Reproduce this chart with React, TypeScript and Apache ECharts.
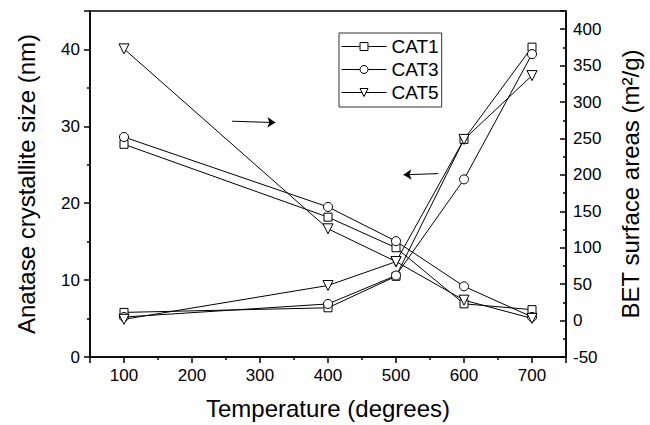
import React, { useEffect, useRef } from 'react';
import * as echarts from 'echarts';

// Calcination temperature (degrees)
const temperatures = [100, 400, 500, 600, 700];
const seriesNames = ['CAT1', 'CAT3', 'CAT5'];

// Anatase crystallite size (nm) - left axis
const sizeCAT1 = [5.8, 6.4, 10.5, 28.3, 40.3];
const sizeCAT3 = [5.2, 6.9, 10.6, 23.1, 39.4];
const sizeCAT5 = [4.9, 9.3, 12.4, 28.3, 36.6];

// BET surface areas (m2/g) - right axis
const betCAT1 = [242, 142, 100, 23, 15];
const betCAT3 = [252, 156, 109, 47, 5];
const betCAT5 = [373, 126, 81, 28, 3];

// Annotation arrows in data units [temperature, value]
const rightArrow = [[259, 273.7], [322.6, 271.8]]; // on right axis
const leftArrow = [[562, 23.85], [511, 23.7]]; // on left axis

const FONT = "'Liberation Sans', Arial, sans-serif";

const symbols: Record<string, { symbol: string; size: number; rotate: number }> = {
  CAT1: { symbol: 'rect', size: 8, rotate: 0 },
  CAT3: { symbol: 'circle', size: 9, rotate: 0 },
  CAT5: { symbol: 'triangle', size: 10, rotate: 180 },
};

function makeSeries(name: string, values: number[], yAxisIndex: number, arrow?: number[][]) {
  const s = symbols[name];
  const ser: any = {
    type: 'line',
    name,
    yAxisIndex,
    data: temperatures.map((t, i) => [t, values[i]]),
    symbol: s.symbol,
    symbolSize: s.size,
    symbolRotate: s.rotate,
    showAllSymbol: true,
    color: '#000',
    lineStyle: { color: '#000', width: 1 },
    itemStyle: { color: '#fff', borderColor: '#000', borderWidth: 1 },
    emphasis: { disabled: true },
    silent: true,
  };
  if (arrow) {
    ser.markLine = {
      silent: true,
      symbol: ['none', 'arrow'],
      symbolSize: 8,
      label: { show: false },
      lineStyle: { color: '#000', width: 1, type: 'solid' },
      emphasis: { disabled: true },
      data: [[{ coord: arrow[0] }, { coord: arrow[1] }]],
    };
  }
  return ser;
}

export default function App() {
  const ref = useRef<HTMLDivElement>(null);
  useEffect(() => {
    if (!ref.current) return;
    const chart = echarts.init(ref.current, undefined, { renderer: 'svg' });
    const axisLine = { onZero: false, lineStyle: { color: '#000', width: 1.5 } };
    const option: any = {
      animation: false,
      backgroundColor: '#fff',
      textStyle: { fontFamily: FONT, color: '#000' },
      grid: {
        left: 90, right: 79, top: 11, bottom: 64,
        show: true, borderColor: '#000', borderWidth: 1.5, backgroundColor: 'transparent',
      },
      legend: {
        orient: 'vertical', left: 339, top: 33,
        itemWidth: 45, itemHeight: 10, itemGap: 4,
        padding: [4, 3, 5, 2],
        borderColor: '#333', borderWidth: 1,
        selectedMode: false,
        lineStyle: { width: 1, color: '#000' },
        itemStyle: { color: '#fff', borderColor: '#000', borderWidth: 1 },
        textStyle: { fontSize: 19, color: '#000', fontFamily: FONT },
        data: seriesNames,
      },
      xAxis: {
        type: 'value', min: 50, max: 750, splitNumber: 7,
        name: 'Temperature (degrees)', nameLocation: 'middle', nameGap: 39,
        nameTextStyle: { fontSize: 24, color: '#000', fontFamily: FONT },
        axisLine,
        axisTick: { show: true, length: 6, lineStyle: { color: '#000', width: 1.5 } },
        minorTick: { show: true, splitNumber: 2, length: 3, lineStyle: { color: '#000', width: 1.5 } },
        axisLabel: { showMinLabel: false, showMaxLabel: false, fontSize: 17, color: '#000', margin: 10, fontFamily: FONT },
        splitLine: { show: false },
      },
      yAxis: [
        {
          type: 'value', position: 'left', min: 0, max: 45, interval: 10,
          name: 'Anatase crystallite size (nm)', nameLocation: 'middle', nameGap: 52,
          nameTextStyle: { fontSize: 24, color: '#000', fontFamily: FONT },
          axisLine,
          axisTick: { show: true, length: 6, lineStyle: { color: '#000', width: 1.5 } },
          minorTick: { show: true, splitNumber: 2, length: 3, lineStyle: { color: '#000', width: 1.5 } },
          axisLabel: { showMaxLabel: false, fontSize: 17, color: '#000', margin: 10, fontFamily: FONT },
          splitLine: { show: false },
        },
        {
          type: 'value', position: 'right', min: -50, max: 425, interval: 50,
          name: 'BET surface areas (m²/g)', nameLocation: 'middle', nameGap: 52,
          nameTextStyle: { fontSize: 24, color: '#000', fontFamily: FONT },
          axisLine,
          axisTick: { show: true, inside: true, length: 6, lineStyle: { color: '#000', width: 1.5 } },
          minorTick: { show: true, splitNumber: 2, length: 3, lineStyle: { color: '#000', width: 1.5 } },
          axisLabel: { showMaxLabel: false, fontSize: 17, color: '#000', margin: 7, fontFamily: FONT },
          splitLine: { show: false },
        },
      ],
      series: [
        makeSeries('CAT1', sizeCAT1, 0, leftArrow),
        makeSeries('CAT3', sizeCAT3, 0),
        makeSeries('CAT5', sizeCAT5, 0),
        makeSeries('CAT1', betCAT1, 1, rightArrow),
        makeSeries('CAT3', betCAT3, 1),
        makeSeries('CAT5', betCAT5, 1),
      ],
    };
    chart.setOption(option);
    return () => chart.dispose();
  }, []);
  return (
    <div
      ref={ref}
      style={{ position: 'absolute', left: 0, top: 0, width: 650, height: 425 }}
    />
  );
}
